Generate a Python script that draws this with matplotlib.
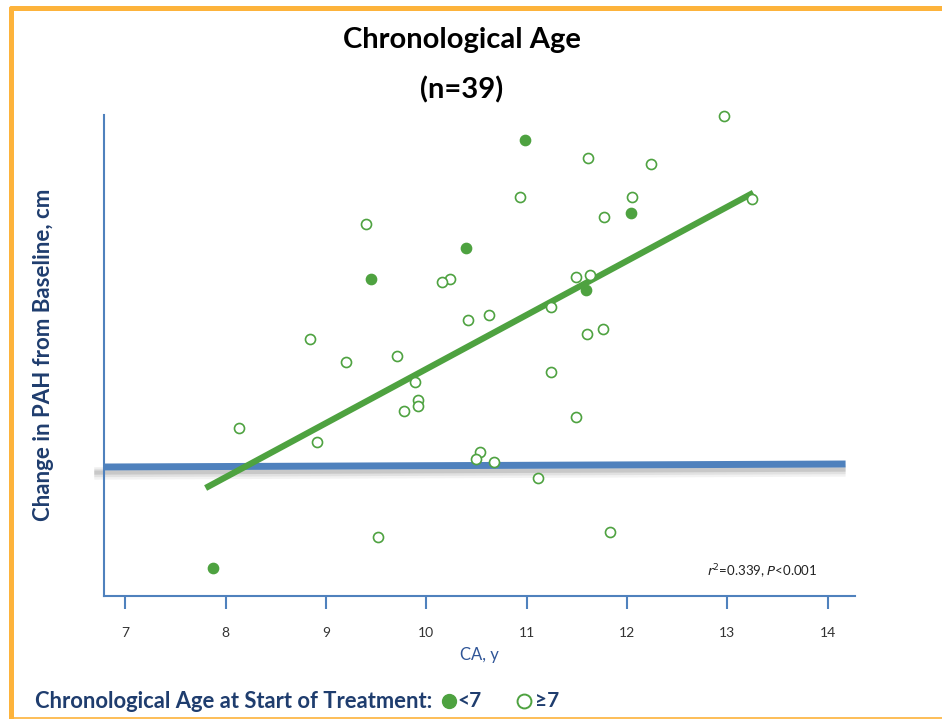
import matplotlib
matplotlib.use("Agg")
import matplotlib.pyplot as plt
from matplotlib.lines import Line2D

plt.rcParams['font.family'] = ['Lato', 'DejaVu Sans']

# open circles: CA >= 7 at start of treatment
ca_open = [12.97, 11.61, 12.24, 10.93, 12.05, 13.25, 11.77, 9.40, 11.63, 11.49,
           10.24, 10.16, 10.42, 10.63, 11.24, 11.76, 11.60, 8.84, 9.20, 9.71,
           11.24, 9.89, 9.92, 9.92, 9.78, 8.13, 11.49, 8.91, 10.54, 10.50,
           10.68, 11.11, 11.83, 9.52]
pah_open = [8.76, 7.71, 7.55, 6.73, 6.73, 6.68, 6.23, 6.05, 4.77, 4.73,
            4.68, 4.61, 3.66, 3.77, 3.98, 3.43, 3.29, 3.17, 2.59, 2.76,
            2.35, 2.09, 1.64, 1.49, 1.38, 0.95, 1.23, 0.59, 0.34, 0.18,
            0.09, -0.29, -1.65, -1.78]

# filled circles: CA < 7 at start of treatment
ca_fill = [10.98, 12.04, 10.40, 9.45, 11.59, 7.87]
pah_fill = [8.16, 6.33, 5.44, 4.67, 4.39, -2.55]

# regression line ends
fit_x = [7.80, 13.26]
fit_y = [-0.55, 6.83]

# baseline (zero change)
base_x = [6.79, 14.18]
base_y = [-0.025, 0.05]

xticks = [7, 8, 9, 10, 11, 12, 13, 14]

green = '#4ea240'
blue = '#4f81bd'
navy = '#1f3d6e'
orange = '#fdb33b'

fig = plt.figure(figsize=(9.42, 7.19), dpi=100)
ax = fig.add_axes([104 / 942, 1 - 596 / 719, 751 / 942, 481 / 719])

# shadow under the baseline
for off, lw, a in [(-0.16, 9, 0.10), (-0.15, 6, 0.15), (-0.14, 3, 0.25)]:
    ax.plot([base_x[0] - 0.1, base_x[1]], [base_y[0] + off, base_y[1] + off],
            color='#808080', lw=lw, alpha=a, solid_capstyle='butt', clip_on=False, zorder=1)
ax.plot(base_x, base_y, color=blue, lw=5, solid_capstyle='butt', zorder=2)

ax.plot(fit_x, fit_y, color=green, lw=4.5, solid_capstyle='butt', zorder=3)

ax.scatter(ca_open, pah_open, s=52, facecolors='white', edgecolors=green,
           linewidths=1.2, zorder=4, clip_on=False)
ax.scatter(ca_fill, pah_fill, s=55, color=green, zorder=4, clip_on=False)

ax.set_xlim(6.787, 14.274)
ax.set_ylim(-3.25, 8.775)
ax.set_xticks(xticks)
ax.set_yticks([])
for s in ['top', 'right']:
    ax.spines[s].set_visible(False)
for s in ['left', 'bottom']:
    ax.spines[s].set_color(blue)
    ax.spines[s].set_linewidth(1.5)
ax.tick_params(axis='x', direction='out', length=9, width=1.5, color=blue,
               labelsize=10, labelcolor='#333333', pad=13)

ax.set_xlabel('CA, y', color='#2f5597', fontsize=12, labelpad=6)
fig.text(44 / 942, 1 - 355 / 719, 'Change in PAH from Baseline, cm', color=navy,
         fontsize=16, fontweight='bold', rotation=90, ha='center', va='center')

ax.text(0.803, 0.032, r'$\it{r}$$^2$=0.339, $\it{P}$<0.001', transform=ax.transAxes,
        fontsize=9.5, color='#222222', ha='left', va='bottom')

fig.text(462 / 942, 1 - 40 / 719, 'Chronological Age', fontsize=21,
         fontweight='bold', ha='center', va='center')
fig.text(462 / 942, 1 - 90 / 719, '(n=39)', fontsize=21,
         fontweight='bold', ha='center', va='center')

ly = 1 - 701 / 719
fig.text(35 / 942, ly, 'Chronological Age at Start of Treatment:', fontsize=15.8,
         fontweight='bold', color=navy, ha='left', va='center')
fig.add_artist(Line2D([449 / 942], [ly], marker='o', markersize=10, color=green,
                      transform=fig.transFigure))
fig.text(457 / 942, ly, '<7', fontsize=15, fontweight='bold', color=navy,
         ha='left', va='center')
fig.add_artist(Line2D([524 / 942], [ly], marker='o', markersize=10, markerfacecolor='white',
                      markeredgecolor=green, markeredgewidth=1.4, color=green,
                      transform=fig.transFigure))
fig.text(535 / 942, ly, '≥7', fontsize=15, fontweight='bold', color=navy,
         ha='left', va='center')

# orange frame (top, left, bottom)
fig.add_artist(Line2D([10.5 / 942, 1], [1 - 7.5 / 719, 1 - 7.5 / 719], color=orange,
                      lw=3.6, transform=fig.transFigure, solid_capstyle='round'))
fig.add_artist(Line2D([10.5 / 942, 10.5 / 942], [0, 1 - 7.5 / 719], color=orange,
                      lw=3.6, transform=fig.transFigure, solid_capstyle='round'))
fig.add_artist(Line2D([10.5 / 942, 1], [1 / 719, 1 / 719], color=orange,
                      lw=1.2, transform=fig.transFigure))

fig.savefig('out.png', dpi=100)
